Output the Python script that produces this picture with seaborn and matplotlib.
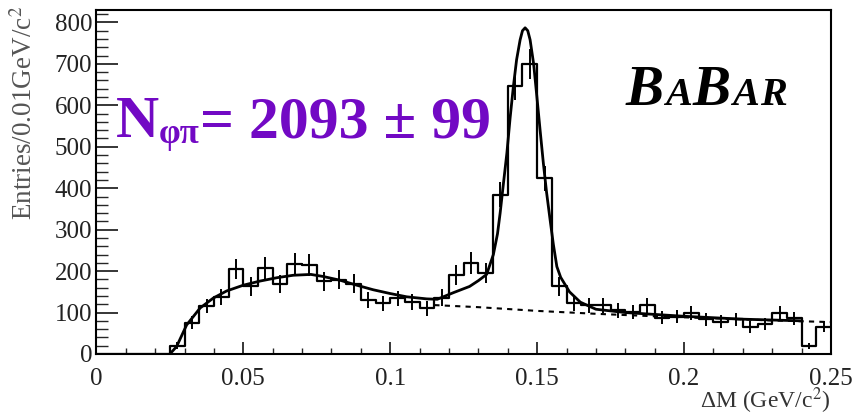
import numpy as np
import pandas as pd
import matplotlib
matplotlib.use("Agg")
import matplotlib.pyplot as plt
from matplotlib.transforms import IdentityTransform
from matplotlib.ticker import MultipleLocator
import seaborn as sns

# ---------------- data ----------------
bin_edges = [round(0.005 * i, 4) for i in range(51)]
counts = [0, 0, 0, 0, 0, 20, 76, 116, 138, 205,
          163, 207, 168, 217, 215, 175, 179, 170, 130, 122,
          134, 126, 110, 136, 190, 220, 195, 384, 646, 700,
          424, 163, 122, 118, 118, 106, 102, 118, 88, 90,
          98, 84, 78, 84, 65, 72, 100, 86, 19, 66]
errors = [0, 0, 0, 0, 0, 8, 15, 17, 19, 25,
          22, 26, 22, 26, 26, 23, 23, 22, 19, 19,
          19, 19, 18, 20, 24, 26, 24, 30, 34, 36,
          30, 22, 19, 18, 18, 18, 17, 18, 16, 16,
          17, 16, 15, 16, 14, 15, 17, 16, 8, 14]

fit_x = [0.025, 0.0273, 0.0307, 0.0353, 0.0398, 0.0443, 0.050, 0.0557, 0.0614, 0.067,
         0.073, 0.0772, 0.0829, 0.0886, 0.0942, 0.0999, 0.1056, 0.1124, 0.116, 0.1215,
         0.127, 0.130, 0.1328, 0.1351, 0.1365, 0.1374, 0.1385, 0.1397, 0.1408, 0.1419,
         0.143, 0.1442, 0.145, 0.1459, 0.1468, 0.1476, 0.1488, 0.1499, 0.151, 0.1521,
         0.1532, 0.1544, 0.1555, 0.1567, 0.158, 0.161, 0.1647, 0.170, 0.180, 0.200,
         0.220, 0.240]
fit_y = [0, 18, 70, 111, 135, 152, 166, 176, 184, 190,
         192, 187, 178, 166, 155, 146, 138, 133, 132, 148,
         163, 177, 192, 240, 290, 340, 410, 485, 570, 645,
         710, 758, 780, 787, 780, 758, 700, 621, 540, 461,
         390, 324, 265, 211, 185, 150, 125, 108, 100, 91,
         84, 80]

bkg_x = [0.115, 0.130, 0.150, 0.170, 0.190, 0.210, 0.230, 0.250]
bkg_y = [118, 113, 104, 97, 91, 86, 81, 77]

x_ticks = [0, 0.05, 0.1, 0.15, 0.2, 0.25]
x_tick_labels = ["0", "0.05", "0.1", "0.15", "0.2", "0.25"]
y_ticks = [0, 100, 200, 300, 400, 500, 600, 700, 800]

# ---------------- style ----------------
sns.set_theme(style="white")
plt.rcParams["font.family"] = ["Liberation Serif", "DejaVu Serif"]
plt.rcParams["mathtext.fontset"] = "stix"

W, H = 859, 418
fig = plt.figure(figsize=(W / 100, H / 100), dpi=100)
ax = fig.add_axes([96.4 / W, 1 - 354 / H, (831 - 96.4) / W, (354 - 10) / H])

centers = [(bin_edges[i] + bin_edges[i + 1]) / 2 for i in range(len(counts))]
hist_df = pd.DataFrame({"x": centers, "w": counts})
sns.histplot(data=hist_df, x="x", weights="w", bins=bin_edges, element="step",
             fill=False, color="black", linewidth=1.6, ax=ax)

ev = [(c, v, e) for c, v, e in zip(centers, counts, errors) if v > 0]
ax.vlines([a for a, _, _ in ev], [b - e for _, b, e in ev], [b + e for _, b, e in ev],
          color="black", linewidth=1.4)

fit_df = pd.DataFrame({"x": fit_x, "y": fit_y})
sns.lineplot(data=fit_df, x="x", y="y", color="black", linewidth=2.0, ax=ax,
             sort=False, estimator=None)
bkg_df = pd.DataFrame({"x": bkg_x, "y": bkg_y})
sns.lineplot(data=bkg_df, x="x", y="y", color="black", linewidth=1.5, ax=ax,
             linestyle=(0, (2.5, 2.5)), sort=False, estimator=None)

ax.set_xlim(0, 0.25)
ax.set_ylim(0, 830)
ax.set_xlabel("")
ax.set_ylabel("")
ax.set_xticks(x_ticks)
ax.set_xticklabels(x_tick_labels)
ax.set_yticks(y_ticks)
ax.xaxis.set_minor_locator(MultipleLocator(0.01))
ax.yaxis.set_minor_locator(MultipleLocator(20))
ax.tick_params(axis="x", which="major", direction="in", length=8.6, width=1.1,
               pad=10, labelsize=18, colors="black", bottom=True, top=False)
ax.tick_params(axis="x", which="minor", direction="in", length=4.3, width=1.0,
               bottom=True, top=False)
ax.tick_params(axis="y", which="major", direction="in", length=15.5, width=1.1,
               pad=3, labelsize=18, colors="black", left=True, right=False)
ax.tick_params(axis="y", which="minor", direction="in", length=8.5, width=1.0,
               left=True, right=False)
for lab in ax.get_xticklabels() + ax.get_yticklabels():
    lab.set_color("#222222")
for sp in ax.spines.values():
    sp.set_color("black")
    sp.set_linewidth(1.5)

ident = IdentityTransform()
fig.text(25, H - 6, "Entries/0.01GeV/c$^{2}$", rotation=90, ha="center", va="top",
         fontsize=19.5, color="#555555", transform=ident)
fig.text(830, 17, "ΔM (GeV/c$^{2}$)", ha="right", va="center",
         fontsize=17, color="#333333", transform=ident)

# ---------------- annotations ----------------
renderer = fig.canvas.get_renderer()


def chain(parts, x0, base, **kw):
    x = x0
    for s, size, dy, kern in parts:
        t = fig.text(x + kern, base + dy, s, fontsize=size, ha="left", va="baseline",
                     transform=ident, **kw)
        bb = t.get_window_extent(renderer=renderer)
        x = bb.x1


purple = "#7209C4"
chain([("N", 43, 0, 0), ("φπ", 25, -6, 0), ("= 2093 ± 99", 43, 0, 0)],
      116, H - 137, color=purple, fontweight="bold")
chain([("B", 41, 0, 0), ("A", 29, 0, 1), ("B", 41, 0, 1), ("A", 29, 0, 1),
       ("R", 29, 0, 1)],
      626, H - 105, color="black", fontweight="bold", fontstyle="italic")

fig.savefig("out.png", dpi=100)
